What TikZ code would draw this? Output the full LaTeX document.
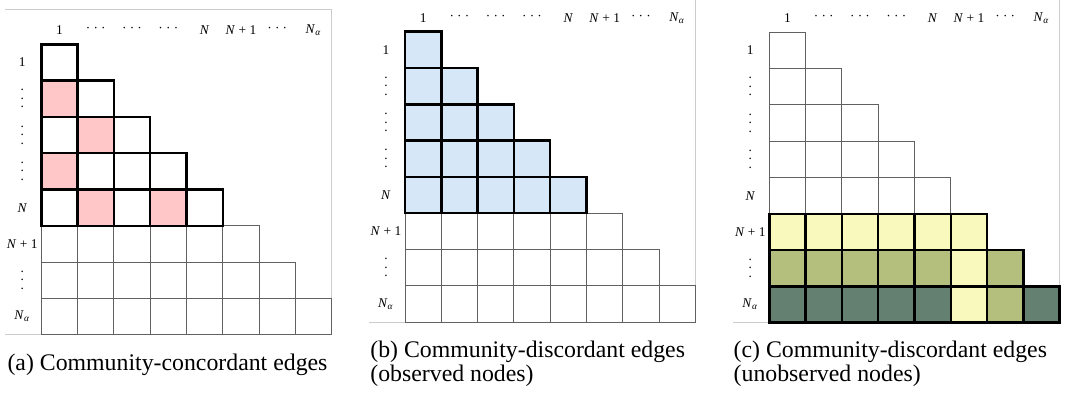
\documentclass[tikz,border=0pt]{standalone}
\usepackage{fontspec}
\setmainfont{Liberation Serif}
\definecolor{pinkc}{RGB}{255,199,199}
\definecolor{bluec}{RGB}{214,232,247}
\definecolor{yelc}{RGB}{249,249,190}
\definecolor{olivec}{RGB}{180,190,125}
\definecolor{darkc}{RGB}{99,128,112}
\newcommand\cellsz{36.3}
\newcommand\hd{·\kern1.6pt·\kern1.6pt·}
\newcommand\vdt{\vbox{\baselineskip4.2pt\lineskiplimit0pt\hbox{.}\hbox{.}\hbox{.}}}
\newcommand\Nt{\textit{N}}
\newcommand\Np{\textit{N}\kern1.7pt+\kern1.7pt1}
\newcommand\Na{\textit{N}\textsubscript{\textit{α}}}
\tikzset{
  frameline/.style={draw=black!20, line width=0.6pt},
  thinline/.style={draw=black!62, line width=0.45pt},
  thickline/.style={draw=black, line width=1.25pt},
  lab/.style={font=\fontsize{6.7}{7}\selectfont, inner sep=0pt},
  captext/.style={font=\fontsize{11.9}{12}\selectfont, inner sep=0pt},
}
\newcommand\panelbase[1]{%
  \draw[frameline] (-36,-35) -- ({8*\cellsz},-35) -- ({8*\cellsz},{7*\cellsz});
  \draw[frameline] (-36,{8*\cellsz}) -- (0,{8*\cellsz});
  \foreach \r in {1,...,8}{\foreach \c in {1,...,\r}{%
    \draw[thinline] ({(\c-1)*\cellsz},{(\r-1)*\cellsz}) rectangle ({\c*\cellsz},{\r*\cellsz});}}
  \foreach \t [count=\i] in {1,\hd,\hd,\hd,\Nt,\Np,\hd,\Na}
    \node[lab] (#1t\i) at ({(\i-0.5)*\cellsz},-14) {\t};
  \foreach \t [count=\i] in {1,\vdt,\vdt,\vdt,\Nt,\Np,\vdt,\Na}
    \node[lab] (#1l\i) at (-19,{(\i-0.5)*\cellsz}) {\t};
}
% #1 row, #2 col, #3 colour
\newcommand\hcell[3]{%
  \fill[#3] ({(#2-1)*\cellsz},{(#1-1)*\cellsz}) rectangle ({#2*\cellsz},{#1*\cellsz});}
\newcommand\tcell[2]{%
  \draw[thickline] ({(#2-1)*\cellsz},{(#1-1)*\cellsz}) rectangle ({#2*\cellsz},{#1*\cellsz});}
\begin{document}
\begin{tikzpicture}[x=0.5pt,y=-0.5pt]
\useasboundingbox (0,0) rectangle (1065,396);
% ---------- panel (a)
\begin{scope}[shift={(41.3,44.3)}]
  \panelbase{a}
  \foreach \r/\c in {2/1,3/2,4/1,5/2,5/4} \hcell{\r}{\c}{pinkc};
  \foreach \r in {1,...,5}{\foreach \c in {1,...,\r}{\tcell{\r}{\c}}}
\end{scope}
\node[captext, anchor=base] (capa) at (167.5,370) {(a) Community-concordant edges};
% ---------- panel (b)
\begin{scope}[shift={(405,31.7)}]
  \panelbase{b}
  \foreach \r in {1,...,5}{\foreach \c in {1,...,\r}{\hcell{\r}{\c}{bluec}}}
  \foreach \r in {1,...,5}{\foreach \c in {1,...,\r}{\tcell{\r}{\c}}}
\end{scope}
\node[captext, anchor=north west, align=left] (capb) at (370,341) {(b) Community-discordant edges\\(observed nodes)};
% ---------- panel (c)
\begin{scope}[shift={(769.3,32.3)}]
  \panelbase{c}
  \foreach \c in {1,...,6} \hcell{6}{\c}{yelc};
  \foreach \c in {1,...,5} \hcell{7}{\c}{olivec};
  \hcell{7}{6}{yelc} \hcell{7}{7}{olivec}
  \foreach \c in {1,...,5} \hcell{8}{\c}{darkc};
  \hcell{8}{6}{yelc} \hcell{8}{7}{olivec} \hcell{8}{8}{darkc}
  \foreach \r in {6,7,8}{\foreach \c in {1,...,\r}{\tcell{\r}{\c}}}
\end{scope}
\node[captext, anchor=north west, align=left] (capc) at (733.3,341) {(c) Community-discordant edges\\(unobserved nodes)};
\end{tikzpicture}
\end{document}
